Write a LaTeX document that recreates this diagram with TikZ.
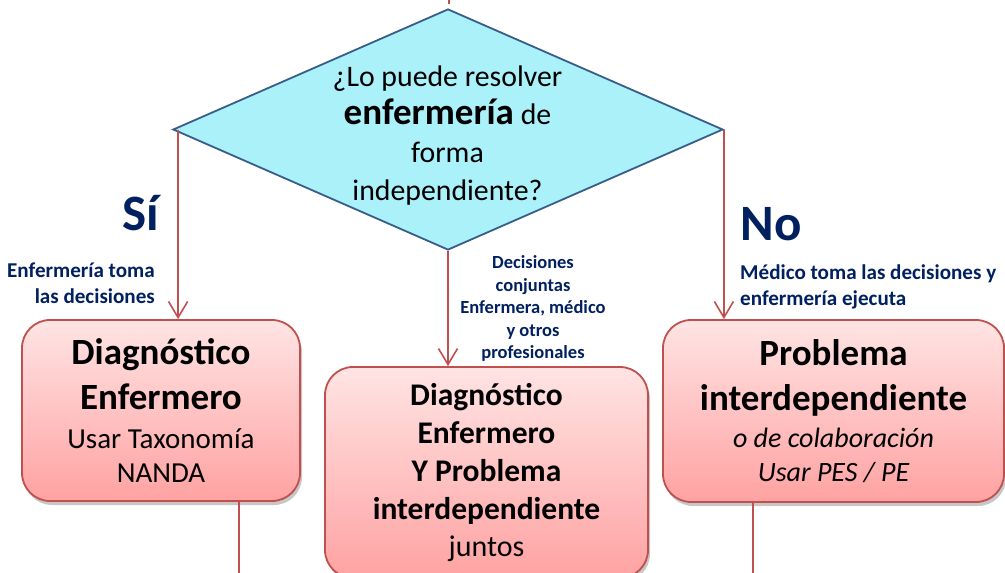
\documentclass[tikz,border=0pt]{standalone}
\usepackage{fontspec}
\setmainfont{Carlito}
\usetikzlibrary{shapes.geometric,arrows.meta,shadows}
\definecolor{navy}{RGB}{0,32,96}
\definecolor{dborder}{RGB}{56,93,138}
\definecolor{dfill}{RGB}{170,241,250}
\definecolor{redl}{RGB}{192,80,77}
\definecolor{btop}{RGB}{255,228,228}
\definecolor{bbot}{RGB}{255,162,162}
\newcommand\fsz[2]{\fontsize{#1}{#2}\selectfont}
\begin{document}
\begin{tikzpicture}[x=1pt,y=-1pt,
  box/.style={draw=redl, line width=1.8pt, rounded corners=28pt,
    top color=btop, bottom color=bbot, align=center, inner sep=0pt,
    drop shadow={shadow xshift=2pt, shadow yshift=-4pt, opacity=0.22, fill=black}},
  conn/.style={draw=redl, line width=1.8pt},
  arr/.style={conn, -{Straight Barb[length=16pt,width=19pt,line width=1.6pt]}},
  lbl/.style={text=navy, font=\bfseries\fsz{21.1}{26}, inner sep=0pt},
  lblsmall/.style={text=navy, font=\bfseries\fsz{18.5}{22.5}, inner sep=0pt},
  big/.style={text=navy, font=\bfseries\fsz{51}{60}, inner sep=0pt}]
\useasboundingbox (0,0) rectangle (1005,573);

% decision diamond
\node[diamond, draw=dborder, fill=dfill, line width=1.8pt, inner sep=0pt,
      minimum width=550pt, minimum height=241pt] (q) at (448,129.5) {};
\node[align=center, inner sep=0pt, font=\fsz{29.8}{38}] (qt) at (447.5,135.5)
  {¿Lo puede resolver\\{\bfseries\fsz{37}{38}enfermería} de\\forma\\independiente?};

% boxes
\node[box, minimum width=278pt, minimum height=181pt, font=\fsz{37}{45}] (L) at (161,410.5)
  {\bfseries Diagnóstico\\\bfseries Enfermero\\[-6pt]\fsz{29}{45}Usar Taxonomía\\[-11pt]\fsz{29}{45}NANDA};
\node[box, minimum width=323pt, minimum height=211pt, font=\bfseries\fsz{31.5}{38}] (M) at (486.5,472.5)
  {Diagnóstico\\Enfermero\\Y Problema\\interdependiente\\[-1pt]\mdseries\fsz{30}{38}juntos};
\node[box, minimum width=341pt, minimum height=182pt, font=\fsz{37}{45}] (R) at (833.5,411)
  {\bfseries Problema\\\bfseries interdependiente\\[-8pt]\itshape\fsz{28}{45}o de colaboración\\[-11pt]\itshape\fsz{28}{45}Usar PES / PE};

% labels
\node[big, anchor=base] (si) at (141,230) {Sí};
\node[big, anchor=base] (no) at (771,240) {No};
\node[lbl, align=right, anchor=east] (ll) at (155,283.3) {Enfermería toma\\las decisiones};
\node[lbl, align=left, anchor=west] (rl) at (740,287) {Médico toma las decisiones y\\enfermería ejecuta};
\node[lblsmall, align=center] (ml) at (533,308.5) {Decisiones\\conjuntas\\Enfermera, médico\\y otros\\profesionales};

% connectors
\coordinate (topin) at (449,0);
\draw[conn] (topin) -- ++(0,4);
\draw[arr] ([xshift=6pt]q.west) -- ([xshift=6pt]q.west |- L.north);
\draw[arr] (q.south) -- (q.south |- M.north);
\draw[arr] (q.east) -- (q.east |- R.north);
\coordinate (lb) at (239,573);
\coordinate (rb) at (753,573);
\draw[conn] (L.south -| lb) -- (lb);
\draw[conn] (R.south -| rb) -- (rb);
\end{tikzpicture}
\end{document}
